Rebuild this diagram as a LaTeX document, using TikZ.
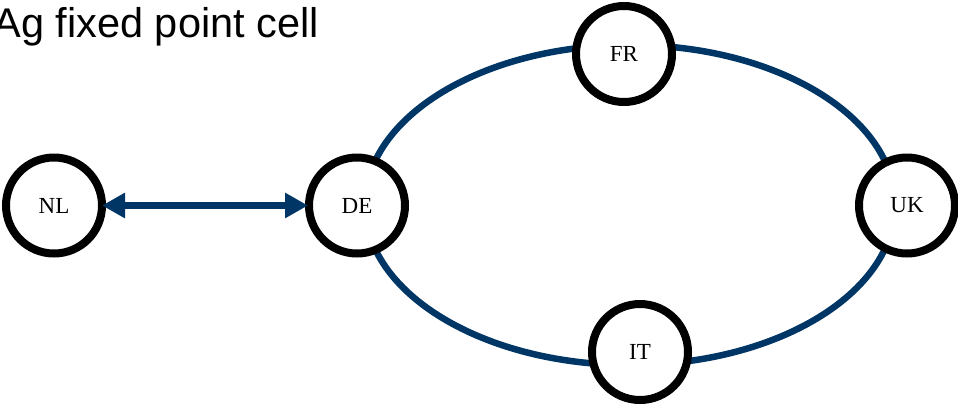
\documentclass[tikz,border=0pt]{standalone}
\usepackage{fontspec}
\setmainfont{Liberation Serif}
\newfontfamily\titlefont{Liberation Sans}
\usetikzlibrary{arrows.meta}
\definecolor{linkblue}{RGB}{0,54,102}
\tikzset{
  country/.style={circle, draw=black, line width=8pt, fill=white, minimum size=96pt, inner sep=0pt, font=\fontsize{23}{23}\selectfont},
  ring/.style={draw=linkblue, line width=6.5pt},
  link/.style={draw=linkblue, line width=7pt, {Triangle[length=23pt,width=24pt]}-{Triangle[length=23pt,width=24pt]}, shorten <=-4pt, shorten >=-3pt}
}
\begin{document}
\begin{tikzpicture}[x=1pt,y=-1pt]
\useasboundingbox (0,0) rectangle (958,405);
\coordinate (ringc) at (630,205);
\draw[ring] (ringc) ellipse [x radius=265, y radius=160];
\node[country] (NL) at (54,205.5) {NL};
\node[country] (DE) at (357,205.5) {DE};
\node[country] (FR) at (624,54) {FR};
\node[country] (UK) at (907,205.5) {UK};
\node[country] (IT) at (640,352) {IT};
\draw[link] (NL) -- (DE);
\node[anchor=base east, inner sep=0pt, font=\titlefont\fontsize{41.5}{41.5}\selectfont] (title) at (319,37) {Ag fixed point cell};
\end{tikzpicture}
\end{document}
